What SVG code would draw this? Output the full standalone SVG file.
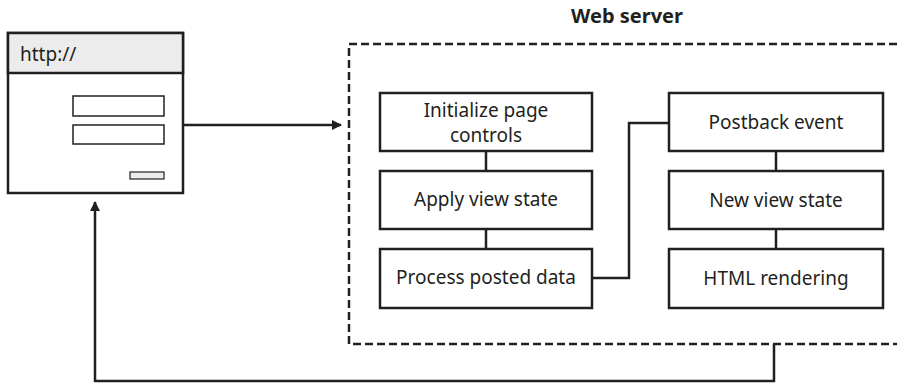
<svg xmlns="http://www.w3.org/2000/svg" width="897" height="384" viewBox="0 0 897 384">
<style>
.box{fill:#fff;stroke:#231f20;stroke-width:2.5}
.ln{fill:none;stroke:#231f20;stroke-width:2.5}
.t{font-family:"Noto Sans","Open Sans",sans-serif;font-size:19px;fill:#231f20;text-anchor:middle}
</style>
<defs>
<marker id="ah" markerWidth="10" markerHeight="10" refX="9" refY="5" orient="auto" markerUnits="userSpaceOnUse">
<path d="M0,0 L10,5 L0,10 z" fill="#231f20"/>
</marker>
</defs>
<g id="browser">
<rect x="8" y="33" width="175" height="160" class="box"/>
<rect x="8" y="33" width="175" height="40" fill="#ececec" stroke="#231f20" stroke-width="2.5"/>
<text x="20" y="61" font-family="Noto Sans, sans-serif" font-size="19" fill="#231f20">http://</text>
<rect x="73" y="96" width="91" height="20" fill="#fff" stroke="#231f20" stroke-width="1.5"/>
<rect x="73" y="125" width="91" height="19" fill="#fff" stroke="#231f20" stroke-width="1.5"/>
<rect x="130" y="172" width="34" height="7" fill="#ececec" stroke="#231f20" stroke-width="1.2"/>
</g>
<g id="webserver">
<rect x="349" y="44" width="600" height="300" fill="none" stroke="#231f20" stroke-width="2.5" stroke-dasharray="8,4"/>
<text x="627" y="23" font-family="Noto Sans, sans-serif" font-size="20" font-weight="bold" fill="#231f20" text-anchor="middle">Web server</text>
</g>
<g id="connectors">
<path d="M183,125 H341" class="ln" marker-end="url(#ah)"/>
<path d="M486,151 V171" class="ln"/>
<path d="M486,229 V249" class="ln"/>
<path d="M592,278 H629 V123 H669" class="ln"/>
<path d="M776,151 V171" class="ln"/>
<path d="M776,229 V249" class="ln"/>
<path d="M774,344 V381 H95 V202" class="ln" marker-end="url(#ah)"/>
</g>
<g id="init"><rect x="380" y="93" width="212" height="58" class="box"/><text x="486" y="117" class="t">Initialize page</text><text x="486" y="142" class="t">controls</text></g>
<g id="apply"><rect x="380" y="171" width="212" height="58" class="box"/><text x="486" y="206" class="t">Apply view state</text></g>
<g id="process"><rect x="380" y="249" width="212" height="59" class="box"/><text x="486" y="284" class="t">Process posted data</text></g>
<g id="postback"><rect x="669" y="93" width="214" height="58" class="box"/><text x="776" y="129" class="t">Postback event</text></g>
<g id="newview"><rect x="669" y="171" width="214" height="58" class="box"/><text x="776" y="207" class="t">New view state</text></g>
<g id="html"><rect x="669" y="249" width="214" height="59" class="box"/><text x="776" y="285" class="t">HTML rendering</text></g>
</svg>
